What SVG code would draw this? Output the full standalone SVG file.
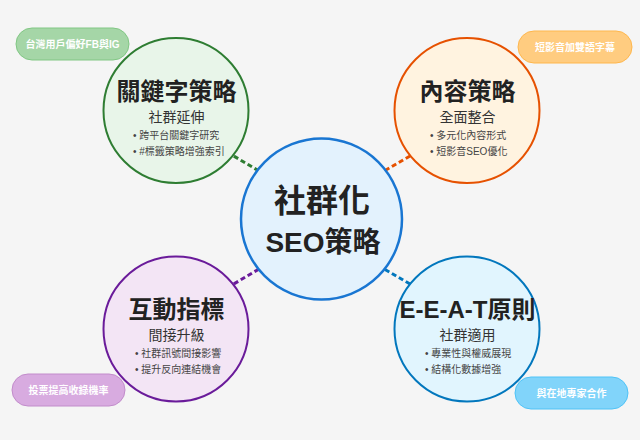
<svg xmlns="http://www.w3.org/2000/svg" width="640" height="440" viewBox="0 0 640 440">
<style>
text{font-family:"Liberation Sans","Noto Sans CJK TC",sans-serif}
.t{font-size:24px;font-weight:bold;fill:#222;text-anchor:middle}
.s{font-size:14px;fill:#333;text-anchor:middle}
.b{font-size:10px;fill:#444}
.p{font-size:10px;font-weight:bold;fill:#fff;text-anchor:middle}
.c{stroke-width:2}
.con{stroke-width:3;stroke-dasharray:5 3;fill:none}
</style>
<rect width="640" height="440" fill="#f5f5f5"/>
<g id="connectors">
<line class="con" x1="227" y1="152" x2="264" y2="174" stroke="#2e7d32"/>
<line class="con" x1="417" y1="152" x2="379" y2="174" stroke="#e65100"/>
<line class="con" x1="227" y1="288" x2="264" y2="266" stroke="#6a1b9a"/>
<line class="con" x1="417" y1="288" x2="379" y2="266" stroke="#0277bd"/>
</g>
<g id="center">
<circle cx="321.5" cy="219" r="80.5" fill="#e3f2fd" stroke="#1976d2" stroke-width="2.5"/>
<text x="322" y="212" font-size="32" font-weight="bold" fill="#222" text-anchor="middle">社群化</text>
<text x="323" y="252" font-size="28" font-weight="bold" fill="#222" text-anchor="middle">SEO策略</text>
</g>
<g id="keyword">
<circle class="c" cx="176" cy="110.5" r="72.5" fill="#e8f5e9" stroke="#2e7d32"/>
<text class="t" x="176.5" y="100">關鍵字策略</text>
<text class="s" x="176.5" y="122">社群延伸</text>
<text class="b" x="133" y="139">• 跨平台關鍵字研究</text>
<text class="b" x="133" y="155">• #標籤策略增強索引</text>
</g>
<g id="content">
<circle class="c" cx="467" cy="110.5" r="72.5" fill="#fff3e0" stroke="#e65100"/>
<text class="t" x="467.5" y="100">內容策略</text>
<text class="s" x="467.5" y="122">全面整合</text>
<text class="b" x="430" y="139">• 多元化內容形式</text>
<text class="b" x="430" y="155">• 短影音SEO優化</text>
</g>
<g id="interaction">
<circle class="c" cx="176" cy="329" r="72.5" fill="#f3e5f5" stroke="#6a1b9a"/>
<text class="t" x="176.5" y="318">互動指標</text>
<text class="s" x="176.5" y="340">間接升級</text>
<text class="b" x="135" y="357">• 社群訊號間接影響</text>
<text class="b" x="135" y="373">• 提升反向連結機會</text>
</g>
<g id="eeat">
<circle class="c" cx="467" cy="329" r="72.5" fill="#e1f5fe" stroke="#0277bd"/>
<text class="t" x="467.5" y="318">E-E-A-T原則</text>
<text class="s" x="467.5" y="340">社群適用</text>
<text class="b" x="425" y="357">• 專業性與權威展現</text>
<text class="b" x="425" y="373">• 結構化數據增強</text>
</g>
<g id="note-fb">
<rect x="16" y="28" width="113" height="32" rx="16" fill="#a5d6a7" stroke="#81c784"/>
<text class="p" x="72.5" y="48">台灣用戶偏好FB與IG</text>
</g>
<g id="note-video">
<rect x="518" y="31" width="114" height="32" rx="16" fill="#ffcc80" stroke="#ffb74d"/>
<text class="p" x="575" y="51">短影音加雙語字幕</text>
</g>
<g id="note-vote">
<rect x="12" y="374" width="113" height="32" rx="16" fill="#d8abe0" stroke="#c28ccb"/>
<text class="p" x="68.5" y="394">投票提高收錄機率</text>
</g>
<g id="note-expert">
<rect x="515" y="377" width="113" height="32" rx="16" fill="#81d4fa" stroke="#4fc3f7"/>
<text class="p" x="571.5" y="397">與在地專家合作</text>
</g>
</svg>
